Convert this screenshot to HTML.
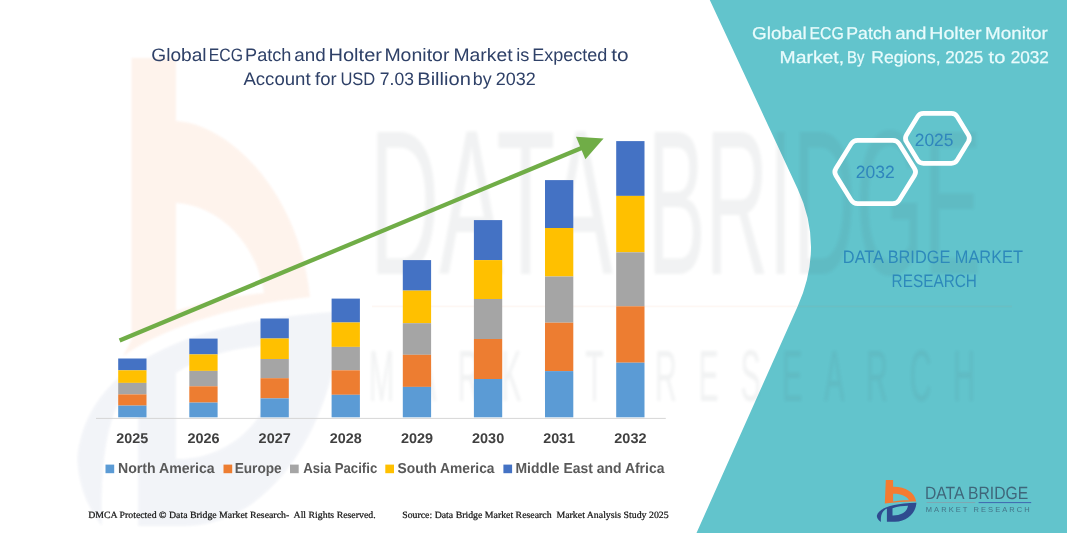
<!DOCTYPE html>
<html><head><meta charset="utf-8"><title>Global ECG Patch and Holter Monitor Market</title>
<style>
html,body{margin:0;padding:0;background:#fff}
body{width:1067px;height:533px;position:relative;overflow:hidden;font-family:"Liberation Sans",sans-serif}
svg{position:absolute;left:0;top:0}
</style></head><body>

<svg width="1067" height="533" viewBox="0 0 1067 533">
<path d="M709.8,0 L797.6,188.8 Q824.4,246.5 797.6,306.6 L696.5,533 L1067,533 L1067,0 Z" fill="#62c4cc"/>
<defs><filter id="bl" x="-5%" y="-5%" width="110%" height="110%"><feGaussianBlur stdDeviation="1.2"/></filter><filter id="bl2" x="-5%" y="-5%" width="110%" height="110%"><feGaussianBlur stdDeviation="1.7"/></filter></defs>
<g opacity="0.085" filter="url(#bl)">
<path fill-rule="evenodd" fill="#f47b30" d="M131.5,58 L176,58 L176,121 C224,123 298,185 310,297 C250,303 172,322 123,356 L131.5,340 Z M176,203 C216,205 256,240 264,293 C232,296 202,302 176,311 Z"/>
</g>
<g opacity="0.055" filter="url(#bl)"><g transform="translate(-5209.9,-5304.7) scale(6.03,11.17)">
<path fill-rule="evenodd" fill="#2f4b8f" d="M876.8,516 C878,509 890,503.8 920.5,502.8 C920,512 910,521.8 895,522 L886.9,522 L886.9,508.5 C883,510.5 880.5,514 880.9,522 C878,520 877,518 876.8,516 Z M893.2,508.3 C898,506.5 905,505.8 911,505.8 C910,512 903,516 893.2,516 Z"/>
</g></g>
<g opacity="0.078" filter="url(#bl2)" fill="#4c5860" font-family="Liberation Sans, sans-serif">
<text x="369.5" y="274" font-size="206" textLength="243" lengthAdjust="spacingAndGlyphs">DATA</text>
<text x="647.5" y="274" font-size="206" textLength="334" lengthAdjust="spacingAndGlyphs">BRIDGE</text>
<text transform="translate(369,401) scale(0.42,1)" font-size="72" textLength="1443" lengthAdjust="spacing">MARKET RESEARCH</text>
</g>
<rect x="372" y="305.6" width="640" height="1.6" fill="#f47b30" opacity="0.06"/>
<rect x="96" y="417.9" width="569.8" height="0.9" fill="#d2d2d2"/>
<rect x="118.2" y="358.5" width="28.3" height="11.8" fill="#4472c4"/>
<rect x="118.2" y="370.3" width="28.3" height="12.6" fill="#ffc000"/>
<rect x="118.2" y="382.9" width="28.3" height="11.5" fill="#a5a5a5"/>
<rect x="118.2" y="394.4" width="28.3" height="11.2" fill="#ed7d31"/>
<rect x="118.2" y="405.6" width="28.3" height="11.7" fill="#5b9bd5"/>
<rect x="189.3" y="338.6" width="28.3" height="15.8" fill="#4472c4"/>
<rect x="189.3" y="354.4" width="28.3" height="16.5" fill="#ffc000"/>
<rect x="189.3" y="370.9" width="28.3" height="15.4" fill="#a5a5a5"/>
<rect x="189.3" y="386.3" width="28.3" height="16.3" fill="#ed7d31"/>
<rect x="189.3" y="402.6" width="28.3" height="14.7" fill="#5b9bd5"/>
<rect x="260.5" y="318.5" width="28.3" height="20.0" fill="#4472c4"/>
<rect x="260.5" y="338.5" width="28.3" height="20.5" fill="#ffc000"/>
<rect x="260.5" y="359.0" width="28.3" height="19.2" fill="#a5a5a5"/>
<rect x="260.5" y="378.2" width="28.3" height="20.2" fill="#ed7d31"/>
<rect x="260.5" y="398.4" width="28.3" height="18.9" fill="#5b9bd5"/>
<rect x="331.6" y="298.6" width="28.3" height="23.9" fill="#4472c4"/>
<rect x="331.6" y="322.5" width="28.3" height="24.4" fill="#ffc000"/>
<rect x="331.6" y="346.9" width="28.3" height="23.4" fill="#a5a5a5"/>
<rect x="331.6" y="370.3" width="28.3" height="24.5" fill="#ed7d31"/>
<rect x="331.6" y="394.8" width="28.3" height="22.5" fill="#5b9bd5"/>
<rect x="402.8" y="260.1" width="28.3" height="30.5" fill="#4472c4"/>
<rect x="402.8" y="290.6" width="28.3" height="32.6" fill="#ffc000"/>
<rect x="402.8" y="323.2" width="28.3" height="31.6" fill="#a5a5a5"/>
<rect x="402.8" y="354.8" width="28.3" height="32.1" fill="#ed7d31"/>
<rect x="402.8" y="386.9" width="28.3" height="30.4" fill="#5b9bd5"/>
<rect x="473.9" y="220.1" width="28.3" height="40.0" fill="#4472c4"/>
<rect x="473.9" y="260.1" width="28.3" height="38.9" fill="#ffc000"/>
<rect x="473.9" y="299.0" width="28.3" height="40.0" fill="#a5a5a5"/>
<rect x="473.9" y="339.0" width="28.3" height="40.0" fill="#ed7d31"/>
<rect x="473.9" y="379.0" width="28.3" height="38.3" fill="#5b9bd5"/>
<rect x="545.0" y="180.1" width="28.3" height="47.9" fill="#4472c4"/>
<rect x="545.0" y="228.0" width="28.3" height="48.5" fill="#ffc000"/>
<rect x="545.0" y="276.5" width="28.3" height="46.2" fill="#a5a5a5"/>
<rect x="545.0" y="322.7" width="28.3" height="48.4" fill="#ed7d31"/>
<rect x="545.0" y="371.1" width="28.3" height="46.2" fill="#5b9bd5"/>
<rect x="616.2" y="141.1" width="28.3" height="54.8" fill="#4472c4"/>
<rect x="616.2" y="195.9" width="28.3" height="56.4" fill="#ffc000"/>
<rect x="616.2" y="252.3" width="28.3" height="54.0" fill="#a5a5a5"/>
<rect x="616.2" y="306.3" width="28.3" height="56.4" fill="#ed7d31"/>
<rect x="616.2" y="362.7" width="28.3" height="54.6" fill="#5b9bd5"/>
<line x1="119.6" y1="340.4" x2="584" y2="146.9" stroke="#70ad47" stroke-width="4.3"/>
<polygon points="603.6,138.5 576.0,136.8 585.4,159.3" fill="#70ad47"/>
<rect x="105.5" y="464.6" width="8.7" height="8.6" fill="#5b9bd5"/>
<rect x="223.5" y="464.6" width="8.7" height="8.6" fill="#ed7d31"/>
<rect x="290.0" y="464.6" width="8.7" height="8.6" fill="#a5a5a5"/>
<rect x="385.3" y="464.6" width="8.7" height="8.6" fill="#ffc000"/>
<rect x="503.4" y="464.6" width="8.7" height="8.6" fill="#4472c4"/>
<path d="M835.92,175.57 Q833.70,172.00 835.92,168.43 L851.18,143.87 Q853.40,140.30 857.60,140.30 L892.80,140.30 Q897.00,140.30 899.22,143.87 L914.48,168.43 Q916.70,172.00 914.48,175.57 L899.22,200.13 Q897.00,203.70 892.80,203.70 L857.60,203.70 Q853.40,203.70 851.18,200.13 Z" fill="none" stroke="#fff" stroke-width="4.7" stroke-linejoin="round"/>
<path d="M906.37,141.65 Q904.40,138.40 906.37,135.15 L917.63,116.65 Q919.60,113.40 923.40,113.40 L951.40,113.40 Q955.20,113.40 957.17,116.65 L968.43,135.15 Q970.40,138.40 968.43,141.65 L957.17,160.15 Q955.20,163.40 951.40,163.40 L923.40,163.40 Q919.60,163.40 917.63,160.15 Z" fill="none" stroke="#fff" stroke-width="4.7" stroke-linejoin="round"/>
<path fill-rule="evenodd" fill="#f47b30" d="M885.8,480.1 L893.1,480.1 L893.1,486.8 C905,486.5 914.5,492 916.2,501.6 C908,501.3 897,502 884.8,503.6 Z M893.1,493.8 C900,493.5 907,496 909,500.3 C903,500.3 897,500.8 893.1,501.4 Z"/>
<path fill-rule="evenodd" fill="#2f4b8f" d="M876.8,516 C878,509 890,503.5 916.4,502.8 C916,512 908,521.5 895,521.8 L886.9,521.8 L886.9,508.5 C883,510.5 880.5,514 880.9,521.9 C878,520 877,518 876.8,516 Z M892.5,508.3 C898,506.5 903,505.8 908,505.8 C907,512 901,515.6 892.5,515.4 Z"/>
<rect x="978.6" y="502.1" width="52.6" height="1" fill="#3f66b0"/>
<rect x="926.6" y="502.1" width="48.6" height="0.9" fill="#8b9ca8" opacity="0.8"/>
</svg>
<svg width="1067" height="533" viewBox="0 0 1067 533">
<text transform="translate(151.24,60.65) scale(1.0633,1)" font-family="Liberation Sans, sans-serif" font-size="18.0" fill="#2f4168" style="text-rendering:geometricPrecision;white-space:pre;" xml:space="preserve">Global</text>
<text transform="translate(208.78,60.65) scale(0.8772,1)" font-family="Liberation Sans, sans-serif" font-size="18.0" fill="#2f4168" style="text-rendering:geometricPrecision;white-space:pre;" xml:space="preserve">ECG</text>
<text transform="translate(245.09,60.65) scale(1.0058,1)" font-family="Liberation Sans, sans-serif" font-size="18.0" fill="#2f4168" style="text-rendering:geometricPrecision;white-space:pre;" xml:space="preserve">Patch</text>
<text transform="translate(294.22,60.65) scale(1.0464,1)" font-family="Liberation Sans, sans-serif" font-size="18.0" fill="#2f4168" style="text-rendering:geometricPrecision;white-space:pre;" xml:space="preserve">and</text>
<text transform="translate(328.43,60.65) scale(1.1157,1)" font-family="Liberation Sans, sans-serif" font-size="18.0" fill="#2f4168" style="text-rendering:geometricPrecision;white-space:pre;" xml:space="preserve">Holter</text>
<text transform="translate(384.38,60.65) scale(1.0833,1)" font-family="Liberation Sans, sans-serif" font-size="18.0" fill="#2f4168" style="text-rendering:geometricPrecision;white-space:pre;" xml:space="preserve">Monitor</text>
<text transform="translate(453.39,60.65) scale(1.0748,1)" font-family="Liberation Sans, sans-serif" font-size="18.0" fill="#2f4168" style="text-rendering:geometricPrecision;white-space:pre;" xml:space="preserve">Market</text>
<text transform="translate(516.14,60.65) scale(1.0091,1)" font-family="Liberation Sans, sans-serif" font-size="18.0" fill="#2f4168" style="text-rendering:geometricPrecision;white-space:pre;" xml:space="preserve">is</text>
<text transform="translate(532.30,60.65) scale(1.0000,1)" font-family="Liberation Sans, sans-serif" font-size="18.0" fill="#2f4168" style="text-rendering:geometricPrecision;white-space:pre;" xml:space="preserve">Expected</text>
<text transform="translate(611.31,60.65) scale(1.1571,1)" font-family="Liberation Sans, sans-serif" font-size="18.0" fill="#2f4168" style="text-rendering:geometricPrecision;white-space:pre;" xml:space="preserve">to</text>
<text transform="translate(243.40,85.05) scale(1.0323,1)" font-family="Liberation Sans, sans-serif" font-size="18.0" fill="#2f4168" style="text-rendering:geometricPrecision;white-space:pre;" xml:space="preserve">Account</text>
<text transform="translate(315.04,85.05) scale(1.0293,1)" font-family="Liberation Sans, sans-serif" font-size="18.0" fill="#2f4168" style="text-rendering:geometricPrecision;white-space:pre;" xml:space="preserve">for</text>
<text transform="translate(340.42,85.05) scale(0.9175,1)" font-family="Liberation Sans, sans-serif" font-size="18.0" fill="#2f4168" style="text-rendering:geometricPrecision;white-space:pre;" xml:space="preserve">USD</text>
<text transform="translate(379.83,85.05) scale(0.9714,1)" font-family="Liberation Sans, sans-serif" font-size="18.0" fill="#2f4168" style="text-rendering:geometricPrecision;white-space:pre;" xml:space="preserve">7.03</text>
<text transform="translate(417.23,85.05) scale(1.1160,1)" font-family="Liberation Sans, sans-serif" font-size="18.0" fill="#2f4168" style="text-rendering:geometricPrecision;white-space:pre;" xml:space="preserve">Billion</text>
<text transform="translate(472.76,85.05) scale(0.9915,1)" font-family="Liberation Sans, sans-serif" font-size="18.0" fill="#2f4168" style="text-rendering:geometricPrecision;white-space:pre;" xml:space="preserve">by</text>
<text transform="translate(495.80,85.05) scale(0.9987,1)" font-family="Liberation Sans, sans-serif" font-size="18.0" fill="#2f4168" style="text-rendering:geometricPrecision;white-space:pre;" xml:space="preserve">2032</text>
<text transform="translate(752.07,38.95) scale(1.1000,1)" font-family="Liberation Sans, sans-serif" font-size="17.2" fill="#e9fbfc" stroke="#e9fbfc" stroke-width="0.25" style="text-rendering:geometricPrecision;white-space:pre;" xml:space="preserve">Global</text>
<text transform="translate(809.45,38.95) scale(0.9209,1)" font-family="Liberation Sans, sans-serif" font-size="17.2" fill="#e9fbfc" stroke="#e9fbfc" stroke-width="0.25" style="text-rendering:geometricPrecision;white-space:pre;" xml:space="preserve">ECG</text>
<text transform="translate(846.31,38.95) scale(1.0299,1)" font-family="Liberation Sans, sans-serif" font-size="17.2" fill="#e9fbfc" stroke="#e9fbfc" stroke-width="0.25" style="text-rendering:geometricPrecision;white-space:pre;" xml:space="preserve">Patch</text>
<text transform="translate(895.26,38.95) scale(1.0826,1)" font-family="Liberation Sans, sans-serif" font-size="17.2" fill="#e9fbfc" stroke="#e9fbfc" stroke-width="0.25" style="text-rendering:geometricPrecision;white-space:pre;" xml:space="preserve">and</text>
<text transform="translate(929.27,38.95) scale(1.1416,1)" font-family="Liberation Sans, sans-serif" font-size="17.2" fill="#e9fbfc" stroke="#e9fbfc" stroke-width="0.25" style="text-rendering:geometricPrecision;white-space:pre;" xml:space="preserve">Holter</text>
<text transform="translate(985.03,38.95) scale(1.0946,1)" font-family="Liberation Sans, sans-serif" font-size="17.2" fill="#e9fbfc" stroke="#e9fbfc" stroke-width="0.25" style="text-rendering:geometricPrecision;white-space:pre;" xml:space="preserve">Monitor</text>
<text transform="translate(779.59,63.15) scale(1.1248,1)" font-family="Liberation Sans, sans-serif" font-size="17.2" fill="#e9fbfc" stroke="#e9fbfc" stroke-width="0.25" style="text-rendering:geometricPrecision;white-space:pre;" xml:space="preserve">Market,</text>
<text transform="translate(847.01,63.15) scale(0.8693,1)" font-family="Liberation Sans, sans-serif" font-size="17.2" fill="#e9fbfc" stroke="#e9fbfc" stroke-width="0.25" style="text-rendering:geometricPrecision;white-space:pre;" xml:space="preserve">By</text>
<text transform="translate(871.22,63.15) scale(1.0222,1)" font-family="Liberation Sans, sans-serif" font-size="17.2" fill="#e9fbfc" stroke="#e9fbfc" stroke-width="0.25" style="text-rendering:geometricPrecision;white-space:pre;" xml:space="preserve">Regions,</text>
<text transform="translate(945.36,63.15) scale(0.9865,1)" font-family="Liberation Sans, sans-serif" font-size="17.2" fill="#e9fbfc" stroke="#e9fbfc" stroke-width="0.25" style="text-rendering:geometricPrecision;white-space:pre;" xml:space="preserve">2025</text>
<text transform="translate(988.61,63.15) scale(1.1630,1)" font-family="Liberation Sans, sans-serif" font-size="17.2" fill="#e9fbfc" stroke="#e9fbfc" stroke-width="0.25" style="text-rendering:geometricPrecision;white-space:pre;" xml:space="preserve">to</text>
<text transform="translate(1010.65,63.15) scale(1.0014,1)" font-family="Liberation Sans, sans-serif" font-size="17.2" fill="#e9fbfc" stroke="#e9fbfc" stroke-width="0.25" style="text-rendering:geometricPrecision;white-space:pre;" xml:space="preserve">2032</text>
<text transform="translate(855.71,177.70) scale(0.9854,1)" font-family="Liberation Sans, sans-serif" font-size="17.8" fill="#2f86bd" style="text-rendering:geometricPrecision;white-space:pre;" xml:space="preserve">2032</text>
<text transform="translate(914.72,145.70) scale(0.9801,1)" font-family="Liberation Sans, sans-serif" font-size="17.8" fill="#2f86bd" style="text-rendering:geometricPrecision;white-space:pre;" xml:space="preserve">2025</text>
<text transform="translate(842.84,263.25) scale(0.9079,1)" font-family="Liberation Sans, sans-serif" font-size="18.0" fill="#2d89bb" style="text-rendering:geometricPrecision;white-space:pre;" xml:space="preserve">DATA BRIDGE MARKET</text>
<text transform="translate(891.62,287.15) scale(0.8526,1)" font-family="Liberation Sans, sans-serif" font-size="18.0" fill="#2d89bb" style="text-rendering:geometricPrecision;white-space:pre;" xml:space="preserve">RESEARCH</text>
<text transform="translate(116.34,442.80) scale(1.0164,1)" font-family="Liberation Sans, sans-serif" font-size="14.1" font-weight="bold" fill="#404040" style="text-rendering:geometricPrecision;white-space:pre;" xml:space="preserve">2025</text>
<text transform="translate(187.48,442.80) scale(1.0248,1)" font-family="Liberation Sans, sans-serif" font-size="14.1" font-weight="bold" fill="#404040" style="text-rendering:geometricPrecision;white-space:pre;" xml:space="preserve">2026</text>
<text transform="translate(258.62,442.80) scale(1.0248,1)" font-family="Liberation Sans, sans-serif" font-size="14.1" font-weight="bold" fill="#404040" style="text-rendering:geometricPrecision;white-space:pre;" xml:space="preserve">2027</text>
<text transform="translate(329.76,442.80) scale(1.0164,1)" font-family="Liberation Sans, sans-serif" font-size="14.1" font-weight="bold" fill="#404040" style="text-rendering:geometricPrecision;white-space:pre;" xml:space="preserve">2028</text>
<text transform="translate(400.90,442.80) scale(1.0248,1)" font-family="Liberation Sans, sans-serif" font-size="14.1" font-weight="bold" fill="#404040" style="text-rendering:geometricPrecision;white-space:pre;" xml:space="preserve">2029</text>
<text transform="translate(472.04,442.80) scale(1.0248,1)" font-family="Liberation Sans, sans-serif" font-size="14.1" font-weight="bold" fill="#404040" style="text-rendering:geometricPrecision;white-space:pre;" xml:space="preserve">2030</text>
<text transform="translate(543.18,442.80) scale(1.0164,1)" font-family="Liberation Sans, sans-serif" font-size="14.1" font-weight="bold" fill="#404040" style="text-rendering:geometricPrecision;white-space:pre;" xml:space="preserve">2031</text>
<text transform="translate(614.32,442.80) scale(1.0248,1)" font-family="Liberation Sans, sans-serif" font-size="14.1" font-weight="bold" fill="#404040" style="text-rendering:geometricPrecision;white-space:pre;" xml:space="preserve">2032</text>
<text transform="translate(118.02,473.30) scale(0.9801,1)" font-family="Liberation Sans, sans-serif" font-size="14.4" font-weight="bold" fill="#595959" style="text-rendering:geometricPrecision;white-space:pre;" xml:space="preserve">North America</text>
<text transform="translate(234.65,473.30) scale(0.9479,1)" font-family="Liberation Sans, sans-serif" font-size="14.4" font-weight="bold" fill="#595959" style="text-rendering:geometricPrecision;white-space:pre;" xml:space="preserve">Europe</text>
<text transform="translate(303.14,473.30) scale(0.9175,1)" font-family="Liberation Sans, sans-serif" font-size="14.4" font-weight="bold" fill="#595959" style="text-rendering:geometricPrecision;white-space:pre;" xml:space="preserve">Asia Pacific</text>
<text transform="translate(397.62,473.30) scale(0.9592,1)" font-family="Liberation Sans, sans-serif" font-size="14.4" font-weight="bold" fill="#595959" style="text-rendering:geometricPrecision;white-space:pre;" xml:space="preserve">South America</text>
<text transform="translate(515.43,473.30) scale(0.9686,1)" font-family="Liberation Sans, sans-serif" font-size="14.4" font-weight="bold" fill="#595959" style="text-rendering:geometricPrecision;white-space:pre;" xml:space="preserve">Middle East and Africa</text>
<text transform="translate(88.14,517.70) scale(1.0234,1)" font-family="Liberation Serif, serif" font-size="9.6" fill="#111" stroke="#111" stroke-width="0.22" style="text-rendering:geometricPrecision;white-space:pre;" xml:space="preserve">DMCA Protected © Data Bridge Market Research-  All Rights Reserved.</text>
<text transform="translate(402.19,517.60) scale(1.0235,1)" font-family="Liberation Serif, serif" font-size="9.6" fill="#111" stroke="#111" stroke-width="0.22" style="text-rendering:geometricPrecision;white-space:pre;" xml:space="preserve">Source: Data Bridge Market Research  Market Analysis Study 2025</text>
<text transform="translate(924.98,499.40) scale(0.8828,1)" font-family="Liberation Sans, sans-serif" font-size="17.8" fill="#3f667a" style="text-rendering:geometricPrecision;white-space:pre;" xml:space="preserve">DATA BRIDGE</text>
<text transform="translate(925.78,511.80) scale(1.0420,1)" font-family="Liberation Sans, sans-serif" font-size="7.2" fill="#437387" style="text-rendering:geometricPrecision;white-space:pre;letter-spacing:2.0px;" xml:space="preserve">MARKET RESEARCH</text>
</svg>
</body></html>
